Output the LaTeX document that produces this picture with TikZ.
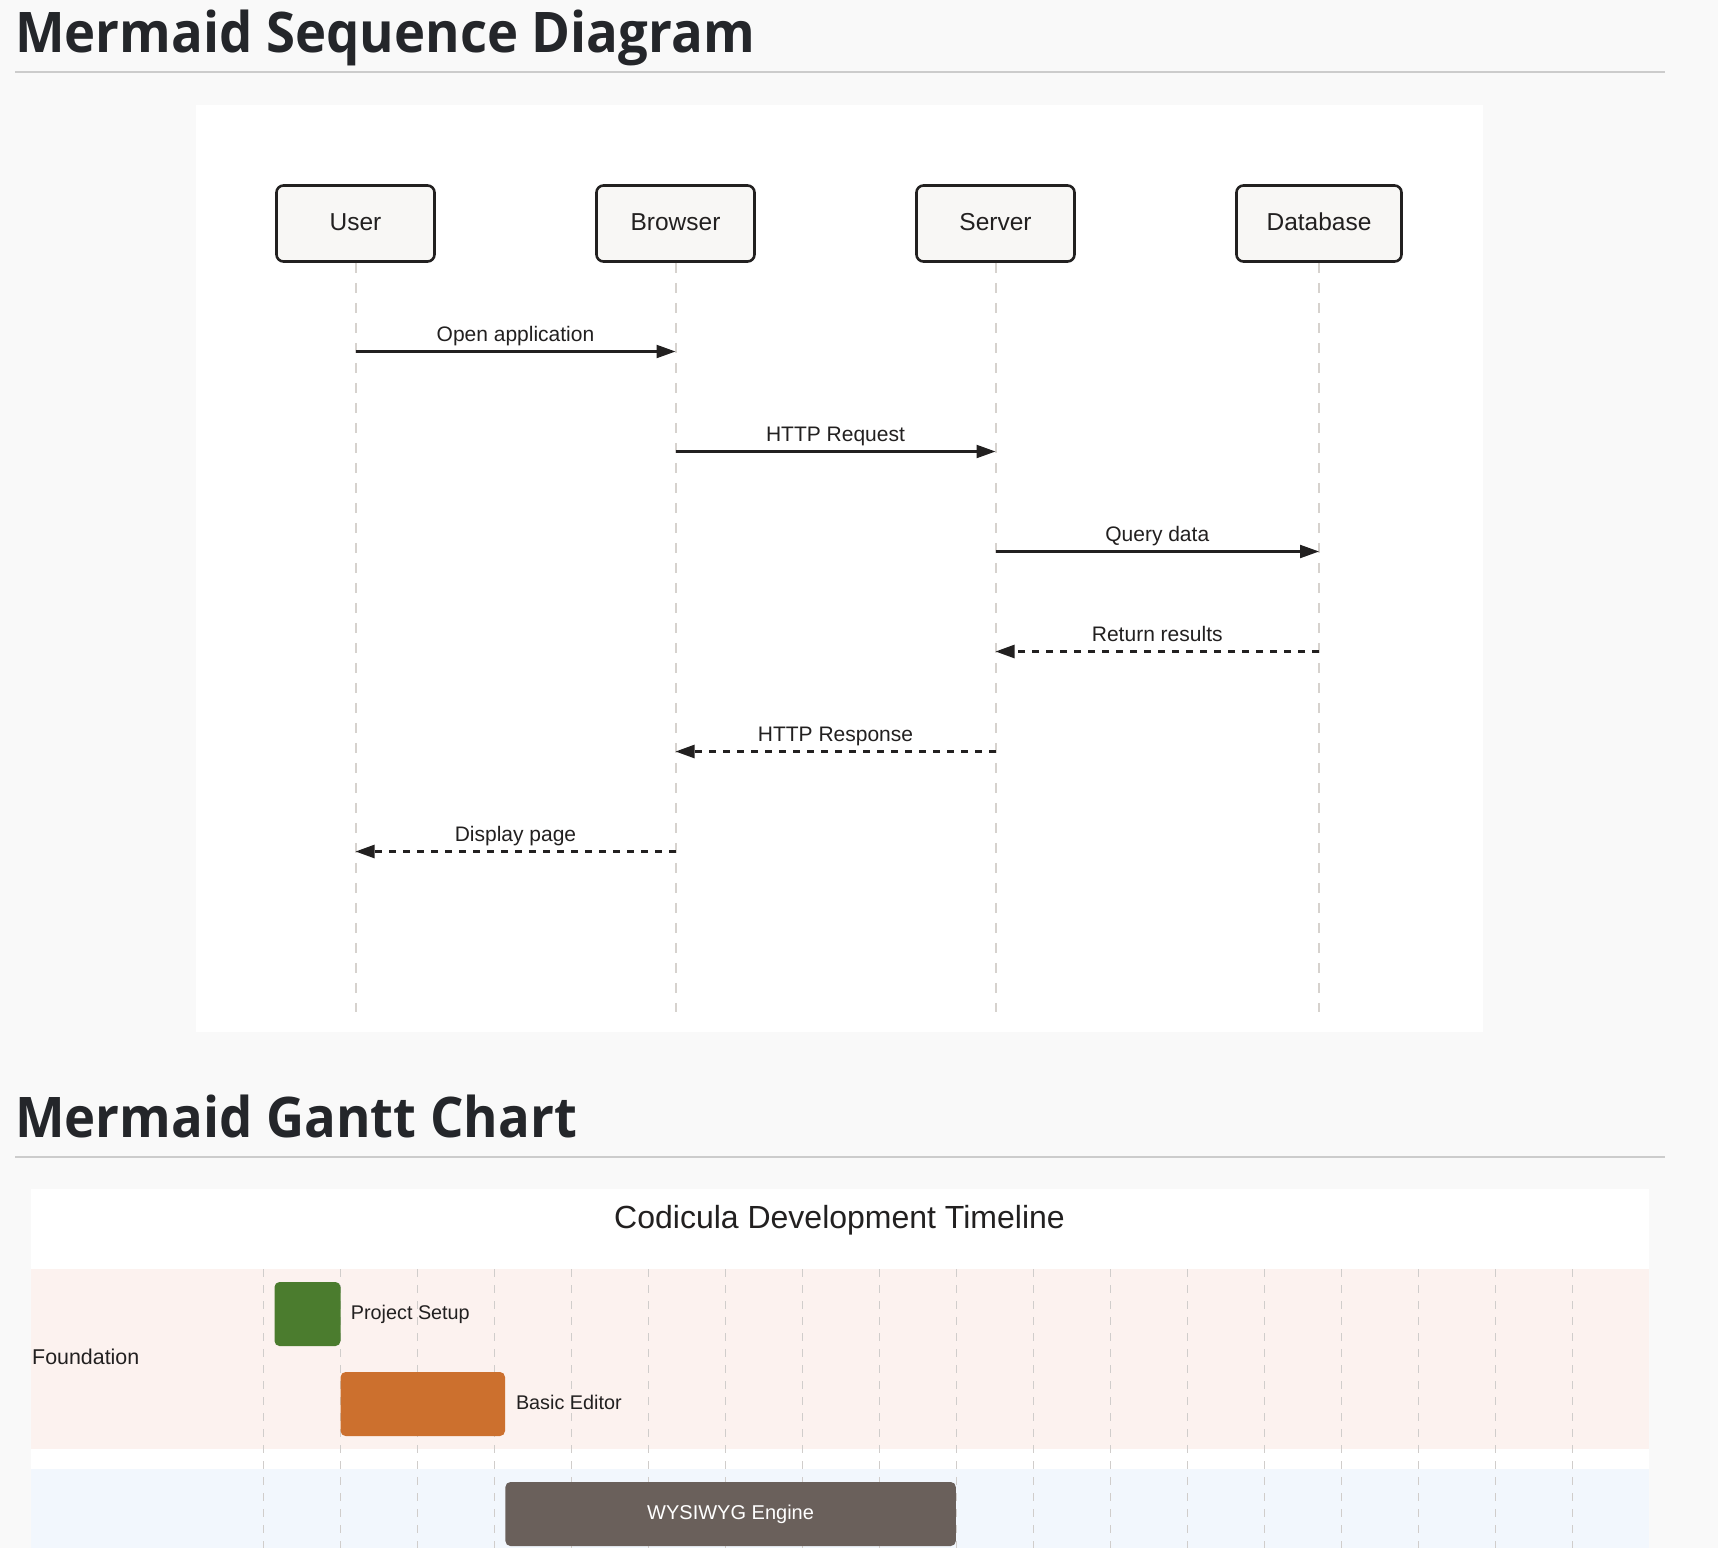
\documentclass[tikz,border=0pt]{standalone}
\usepackage{fontspec}
\setmainfont{Liberation Sans}
\newfontfamily\headfont{Open Sans}
\usepackage{tikz}
\usetikzlibrary{arrows.meta, positioning}
\usepackage{xcolor}
\definecolor{pageBg}{RGB}{249,249,249}
\definecolor{headInk}{RGB}{36,38,42}
\definecolor{ruleGray}{RGB}{204,204,204}
\definecolor{actorFill}{RGB}{248,247,245}
\definecolor{actorLine}{RGB}{34,32,32}
\definecolor{lifeGray}{RGB}{214,210,206}
\definecolor{gridGray}{RGB}{208,205,203}
\definecolor{pinkBand}{RGB}{252,242,239}
\definecolor{blueBand}{RGB}{242,247,253}
\definecolor{setupGreen}{RGB}{75,124,46}
\definecolor{editorOrange}{RGB}{204,112,46}
\definecolor{engineBrown}{RGB}{106,96,91}
\newcommand{\headtext}[1]{\scalebox{0.94}[1]{#1}}

\begin{document}
\begin{tikzpicture}[
    x=1pt, y=-1pt,
    heading/.style={anchor=base west, inner sep=0pt, text=headInk, font=\headfont\bfseries\fontsize{56}{60}\selectfont},
    hrule/.style={draw=ruleGray, line width=2pt},
    actor/.style={rectangle, draw=actorLine, fill=actorFill, line width=2.6pt, rounded corners=7pt, minimum width=158pt, minimum height=76pt, text height=18pt, text depth=4pt, text=actorLine, font=\fontsize{24.5}{29}\selectfont},
    lifeline/.style={draw=lifeGray, line width=2pt, dash pattern=on 10pt off 10pt},
    msg/.style={draw=actorLine, line width=2.2pt, ->},
    reply/.style={draw=actorLine, line width=2.5pt, dash pattern=on 7pt off 7pt, ->},
    msglbl/.style={midway, anchor=base, yshift=10pt, inner sep=0pt, text=actorLine, font=\fontsize{21}{25}\selectfont},
    gridline/.style={draw=gridGray, line width=1.5pt, dash pattern=on 8pt off 8pt},
    bar/.style={rectangle, rounded corners=5pt, minimum height=64pt, inner sep=0pt},
    tasklbl/.style={inner sep=0pt, text=actorLine, font=\fontsize{19.8}{24}\selectfont},
    >={Triangle[length=19pt, width=13pt]}
]
% page
\fill[pageBg] (0,0) rectangle (1718,1548);
\useasboundingbox (0,0) rectangle (1718,1548);

% sequence diagram
\node[heading] (seqhead) at (15,52) {\headtext{Mermaid Sequence Diagram}};
\draw[hrule] (15,72) -- (1665,72);
\fill[white] (196,105) rectangle (1483,1032);

\node[actor] (user) at (355.5,223.5) {User};
\node[actor] (browser) at (675.5,223.5) {Browser};
\node[actor] (server) at (995.5,223.5) {Server};
\node[actor, minimum width=165pt] (database) at (1319,223.5) {Database};

\coordinate (seqbottom) at (0,1012);
\draw[lifeline] (user.south) -- (user.south |- seqbottom);
\draw[lifeline] (browser.south) -- (browser.south |- seqbottom);
\draw[lifeline] (server.south) -- (server.south |- seqbottom);
\draw[lifeline] (database.south) -- (database.south |- seqbottom);

\coordinate (m1) at (0,351.5);
\coordinate (m2) at (0,451.5);
\coordinate (m3) at (0,551.5);
\coordinate (m4) at (0,651.5);
\coordinate (m5) at (0,751.5);
\coordinate (m6) at (0,851.5);
\draw[msg] (user |- m1) -- node[msglbl] {Open application} (browser |- m1);
\draw[msg] (browser |- m2) -- node[msglbl] {HTTP Request} (server |- m2);
\draw[msg] (server |- m3) -- node[msglbl] {Query data} (database |- m3);
\draw[reply] (database |- m4) -- node[msglbl] {Return results} (server |- m4);
\draw[reply] (server |- m5) -- node[msglbl] {HTTP Response} (browser |- m5);
\draw[reply] (browser |- m6) -- node[msglbl] {Display page} (user |- m6);

% gantt chart
\node[heading] (ganttHead) at (15,1137) {\headtext{Mermaid Gantt Chart}};
\draw[hrule] (15,1157) -- (1665,1157);
\fill[white] (31,1189) rectangle (1649,1548);
\node[anchor=base, inner sep=0pt, text=actorLine, font=\fontsize{32}{38}\selectfont] (ganttTitle) at (839.5,1228) {Codicula Development Timeline};
\fill[pinkBand] (31,1269) rectangle (1649,1449);
\fill[blueBand] (31,1469) rectangle (1649,1548);
\foreach \i in {0,...,17}
    \draw[gridline] (263.4+77*\i,1269) -- (263.4+77*\i,1548);

\node[anchor=base west, inner sep=0pt, text=actorLine, font=\fontsize{21.4}{26}\selectfont] (foundation) at (32,1364) {Foundation};

\node[bar, fill=setupGreen, minimum width=66pt] (setup) at (307.5,1314) {};
\node[tasklbl, right=10pt of setup] (setupLbl) {Project Setup};
\node[bar, fill=editorOrange, minimum width=164.4pt] (editor) at (422.8,1404) {};
\node[tasklbl, right=10.6pt of editor, yshift=2pt] (editorLbl) {Basic Editor};
\node[bar, fill=engineBrown, minimum width=450.4pt, text=white, font=\fontsize{20}{24}\selectfont] (engine) at (730.6,1514) {WYSIWYG Engine};
\end{tikzpicture}
\end{document}
